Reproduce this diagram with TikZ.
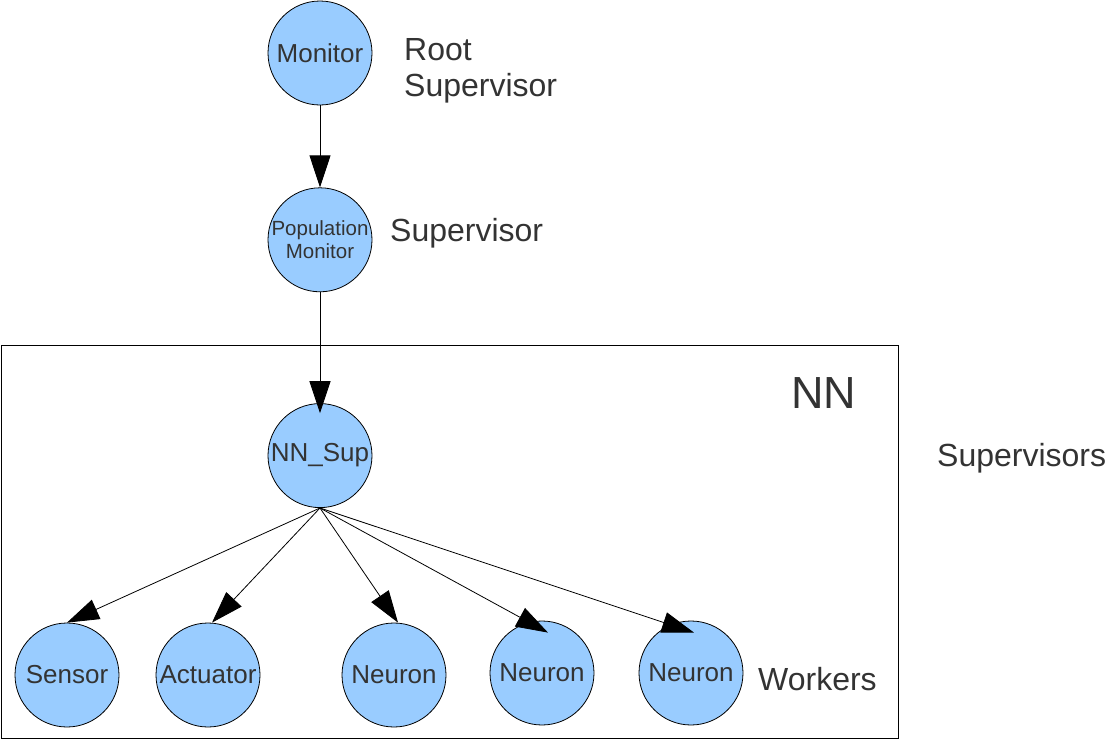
\documentclass[tikz,border=0pt]{standalone}
\usepackage{fontspec}
\setmainfont{Liberation Sans}
\usepackage{tikz}
\usetikzlibrary{positioning}
\usetikzlibrary{arrows.meta}
\definecolor{nodeblue}{HTML}{99CCFF}
\definecolor{txtgray}{HTML}{333333}
\tikzstyle{proc} = [draw, circle,
fill=nodeblue,
line width=0.8pt,
inner sep=0pt,
minimum size=104pt,
text=txtgray,
font=\fontsize{26}{28}\selectfont]
\tikzstyle{line} = [draw,
-{Triangle[length=32pt,width=21pt]},
line width=0.8pt]
\tikzstyle{tag} = [inner sep=0pt, text=txtgray,
font=\fontsize{32}{36}\selectfont]

\begin{document}
\begin{tikzpicture}[x=1pt,y=-1pt]
	\useasboundingbox (0,0) rectangle (1109,739);
	%% NN box
	\draw [line width=0.8pt] (1,345) rectangle (898,738);
	%% Supervisors
	\node [proc] (Mon) at (320,53) {Monitor};
	\node [proc, below=82pt of Mon, font=\fontsize{20.5}{24}\selectfont, align=center] (PopMon) {Population\\[-1pt]Monitor};
	\node [proc, below=111pt of PopMon] (NNSup) {NN\_Sup};
	%% Workers
	\node [proc] (Sen) at (67,675) {Sensor};
	\node [proc] (Act) at (208,675) {Actuator};
	\node [proc] (N1) at (394,675) {Neuron};
	\node [proc] (N2) at (542,673) {Neuron};
	\node [proc] (N3) at (691,673) {Neuron};
	%% Labels
	\node [tag, anchor=base west, align=left] (RootLbl) at (404,96) {Root\\Supervisor};
	\node [tag, anchor=base west] (SupLbl) at (390,241) {Supervisor};
	\node [tag, anchor=base west, font=\fontsize{45}{48}\selectfont] (NNLbl) at (791,408) {NN};
	\node [tag, anchor=base west] (SupsLbl) at (937,466) {Supervisors};
	\node [tag, anchor=base west] (WorkLbl) at (758,690) {Workers};
	%% Links
	\path [line] (Mon) -- (PopMon);
	\path [line] (PopMon) -- ([yshift=-10pt]NNSup.north);
	\path [line] (NNSup.south) -- (Sen.north);
	\path [line] (NNSup.south) -- ([xshift=4pt]Act.north);
	\path [line] (NNSup.south) -- ([xshift=4pt]N1.north);
	\path [line] (NNSup.south) -- ([xshift=6pt,yshift=-12pt]N2.north);
	\path [line] (NNSup.south) -- ([xshift=3pt,yshift=-12pt]N3.north);
\end{tikzpicture}
\end{document}
